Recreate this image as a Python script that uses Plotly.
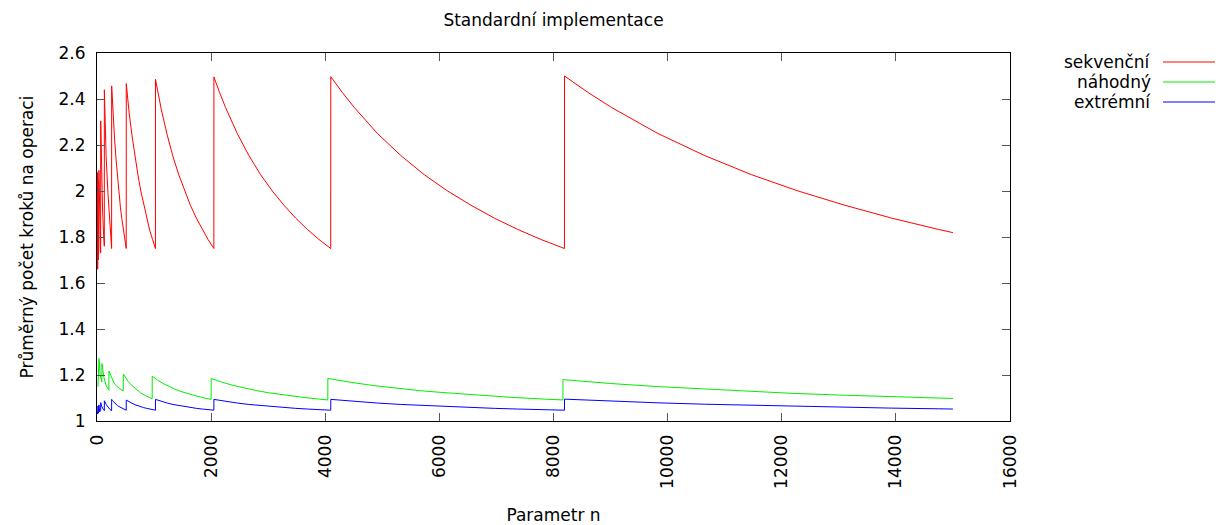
import plotly.graph_objects as go

# ---- data ----
n_rb = [8, 9, 12, 16, 17, 24, 32, 33, 48, 64, 65, 80, 96, 112, 128, 129, 160, 192, 224, 256,
        257, 269, 282, 307, 333, 358, 384, 410, 435, 461, 486, 512,
        513, 538, 563, 614, 666, 717, 768, 819, 870, 922, 973, 1024,
        1025, 1075, 1126, 1229, 1331, 1434, 1536, 1638, 1741, 1843, 1946, 2048,
        2049, 2150, 2253, 2458, 2662, 2867, 3072, 3277, 3482, 3686, 3891, 4096,
        4097, 4301, 4506, 4915, 5325, 5734, 6144, 6554, 6963, 7373, 7782, 8192,
        8193, 8602, 9011, 9830, 10650, 11469, 12288, 13107, 13926, 14746, 15000]

sekvencni = [1.75, 2.08, 1.66, 1.75, 2.05, 1.70, 1.75, 2.09, 1.85, 1.73, 2.305, 2.06, 1.93, 1.83, 1.76, 2.44, 2.15, 1.99, 1.86, 1.75,
             2.457, 2.39, 2.33, 2.23, 2.14, 2.06, 2.0, 1.93, 1.88, 1.83, 1.79, 1.75,
             2.467, 2.40, 2.34, 2.24, 2.15, 2.07, 2.0, 1.94, 1.88, 1.83, 1.79, 1.75,
             2.486, 2.42, 2.355, 2.245, 2.15, 2.07, 2.0, 1.937, 1.882, 1.833, 1.789, 1.75,
             2.496, 2.427, 2.363, 2.25, 2.154, 2.071, 2.0, 1.938, 1.882, 1.833, 1.789, 1.75,
             2.497, 2.428, 2.364, 2.25, 2.154, 2.071, 2.0, 1.938, 1.882, 1.833, 1.789, 1.75,
             2.5, 2.429, 2.364, 2.25, 2.154, 2.071, 2.0, 1.938, 1.882, 1.833, 1.819]

extremni = [1.04, 1.06, 1.03, 1.045, 1.065, 1.035, 1.045, 1.07, 1.04, 1.045, 1.08, 1.065, 1.055, 1.05, 1.045, 1.088, 1.072, 1.06, 1.051, 1.045,
            1.094, 1.0895, 1.0855, 1.078, 1.072, 1.067, 1.063, 1.059, 1.055, 1.052, 1.049, 1.047,
            1.091, 1.087, 1.083, 1.077, 1.071, 1.066, 1.062, 1.058, 1.055, 1.052, 1.049, 1.047,
            1.094, 1.0895, 1.0855, 1.078, 1.072, 1.067, 1.063, 1.059, 1.055, 1.052, 1.049, 1.047,
            1.094, 1.0895, 1.0855, 1.078, 1.072, 1.067, 1.063, 1.059, 1.055, 1.052, 1.049, 1.047,
            1.094, 1.0895, 1.0855, 1.078, 1.072, 1.067, 1.063, 1.059, 1.055, 1.052, 1.049, 1.047,
            1.095, 1.0905, 1.0865, 1.079, 1.073, 1.068, 1.063, 1.059, 1.056, 1.053, 1.052]

n_green = [16, 35, 55, 85, 86, 120, 160, 208,
           209, 250, 300, 350, 400, 460,
           461, 505, 550, 600, 680, 760, 860, 967,
           968, 1015, 1065, 1160, 1260, 1360, 1460, 1600, 1750, 1900, 2000,
           2001, 2100, 2200, 2400, 2600, 2800, 3000, 3300, 3600, 3900, 4045,
           4046, 4250, 4450, 4850, 5250, 5650, 6050, 6650, 7250, 7850, 8165,
           8166, 8600, 9000, 9800, 10600, 11400, 12200, 13000, 13800, 14400, 15000]

nahodny = [1.15, 1.272, 1.20, 1.17, 1.25, 1.19, 1.155, 1.134,
           1.217, 1.19, 1.165, 1.15, 1.14, 1.13,
           1.204, 1.186, 1.171, 1.157, 1.138, 1.123, 1.109, 1.097,
           1.195, 1.186, 1.177, 1.163, 1.150, 1.139, 1.129, 1.118, 1.108, 1.099, 1.094,
           1.185, 1.176, 1.168, 1.154, 1.142, 1.132, 1.123, 1.112, 1.103, 1.095, 1.0915,
           1.185, 1.176, 1.168, 1.154, 1.142, 1.132, 1.124, 1.112, 1.103, 1.095, 1.0916,
           1.18, 1.171, 1.163, 1.150, 1.139, 1.129, 1.120, 1.113, 1.107, 1.102, 1.098]

series_names = ["sekvenční", "náhodný", "extrémní"]
series_colors = ["#ff0000", "#00ee00", "#0000ff"]

x_ticks = [0, 2000, 4000, 6000, 8000, 10000, 12000, 14000, 16000]
y_ticks = [1, 1.2, 1.4, 1.6, 1.8, 2, 2.2, 2.4, 2.6]
y_tick_text = ["1", "1.2", "1.4", "1.6", "1.8", "2", "2.2", "2.4", "2.6"]

assert len(n_rb) == len(sekvencni) == len(extremni)
assert len(n_green) == len(nahodny)

FONT = "DejaVu Sans"

fig = go.Figure()
fig.add_trace(go.Scatter(x=n_rb, y=sekvencni, mode="lines", name=series_names[0],
                         line=dict(color=series_colors[0], width=1)))
fig.add_trace(go.Scatter(x=n_green, y=nahodny, mode="lines", name=series_names[1],
                         line=dict(color=series_colors[1], width=1)))
fig.add_trace(go.Scatter(x=n_rb, y=extremni, mode="lines", name=series_names[2],
                         line=dict(color=series_colors[2], width=1)))

L, R, T, B = 97, 206, 53, 104
W, H = 1216, 525
pw, ph = W - L - R, H - T - B

# gnuplot-style key on the right: text right-aligned, line sample to its right
key_y_px = [62, 82, 102]
for name, col, ypx in zip(series_names, series_colors, key_y_px):
    yp = (H - B - ypx) / ph
    fig.add_annotation(x=(1153 - L) / pw, y=yp, xref="paper", yref="paper",
                       text=name, showarrow=False, xanchor="right", yanchor="middle",
                       font=dict(family=FONT, size=17, color="black"))
    fig.add_shape(type="line", xref="paper", yref="paper",
                  x0=(1163 - L) / pw, x1=(1215 - L) / pw, y0=yp, y1=yp,
                  line=dict(color=col, width=1))

fig.update_layout(
    width=W, height=H,
    margin=dict(l=L, r=R, t=T, b=B, pad=0, autoexpand=False),
    paper_bgcolor="white", plot_bgcolor="white",
    showlegend=False,
    font=dict(family=FONT, size=17, color="black"),
    title=dict(text="Standardní implementace", x=0.5, xref="paper",
               y=1 - 20 / H, yref="container", xanchor="center", yanchor="middle",
               automargin=False,
               font=dict(family=FONT, size=17, color="black")),
    xaxis=dict(range=[0, 16000], tickvals=x_ticks, ticktext=[str(v) for v in x_ticks],
               tickangle=-90, ticks="inside", ticklen=8, tickcolor="#555", tickwidth=1,
               ticklabelstandoff=6,
               showline=True, linecolor="black", linewidth=1, mirror="ticks",
               showgrid=False, zeroline=False, automargin=False,
               title=dict(text="Parametr n", standoff=24, font=dict(size=17)),
               tickfont=dict(size=17)),
    yaxis=dict(range=[1, 2.6], tickvals=y_ticks, ticktext=y_tick_text,
               ticks="inside", ticklen=8, tickcolor="#555", tickwidth=1,
               ticklabelstandoff=7,
               showline=True, linecolor="black", linewidth=1, mirror="ticks",
               showgrid=False, zeroline=False, automargin=False,
               title=dict(text="Průměrný počet kroků na operaci", standoff=20, font=dict(size=17)),
               tickfont=dict(size=17)),
)

fig.write_html("out.html", config={"displayModeBar": False},
               post_script="document.body.style.margin='0';document.body.style.overflow='hidden';")
